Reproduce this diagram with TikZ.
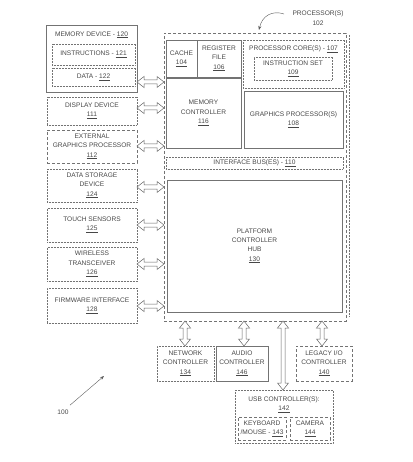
\documentclass[tikz,border=0pt]{standalone}
\usepackage{fontspec}
\setmainfont{Liberation Sans}
\usetikzlibrary{arrows.meta,calc}
\newcommand\bx[7]{\node[box,#6,minimum width={(#4)-(#2)},minimum height={(#5)-(#3)}] (#1) at ({((#2)+(#4))/2},{((#3)+(#5))/2}) {#7};}
% horizontal hollow double arrow from left point #1 to right point #2
\newcommand\harrow[2]{\draw[arr] let \p1=#1, \p2=#2 in
  (\x1,\y1) -- (\x1+7,\y1+5.5) -- (\x1+7,\y1+2) -- (\x2-7,\y1+2) -- (\x2-7,\y1+5.5) -- (\x2,\y1)
  -- (\x2-7,\y1-5.5) -- (\x2-7,\y1-2) -- (\x1+7,\y1-2) -- (\x1+7,\y1-5.5) -- cycle;}
% vertical hollow double arrow from upper point #1 to lower point #2
\newcommand\varrow[2]{\draw[arr] let \p1=#1, \p2=#2 in
  (\x1,\y1) -- (\x1+5.5,\y1-7) -- (\x1+2,\y1-7) -- (\x1+2,\y2+7) -- (\x1+5.5,\y2+7) -- (\x1,\y2)
  -- (\x1-5.5,\y2+7) -- (\x1-2,\y2+7) -- (\x1-2,\y1-7) -- (\x1-5.5,\y1-7) -- cycle;}
\begin{document}
\begin{tikzpicture}[x=1pt,y=-1pt,
  every node/.style={font=\fontsize{6.6}{9.3}\selectfont, text=black!72},
  box/.style={draw=black!55, line width=0.5pt, inner sep=0pt, outer sep=0pt, align=center},
  dot/.style={densely dotted},
  dsh/.style={dash pattern=on 3pt off 2pt},
  arr/.style={draw=black!60, line width=0.5pt, fill=white, line join=miter},
  thin/.style={draw=black!65, line width=0.4pt}
]
\path[use as bounding box] (0,0) rectangle (412,462);

% left column
\bx{mem}{46}{25}{137}{92}{}{}
\node[anchor=north] (memt) at (91.5,28) {MEMORY DEVICE - \underline{120}};
\bx{instr}{52}{44}{135}{65}{dot}{INSTRUCTIONS - \underline{121}}
\bx{data}{52}{68}{135}{86}{dot}{DATA - \underline{122}}
\bx{disp}{47}{97}{137}{125}{dot}{DISPLAY DEVICE\\\underline{111}}
\bx{extg}{47}{130}{137}{163}{dsh}{EXTERNAL\\GRAPHICS PROCESSOR\\\underline{112}}
\bx{dstor}{47}{169}{137}{202}{dot}{DATA STORAGE\\DEVICE\\\underline{124}}
\bx{touch}{47}{208}{137}{242}{dot}{TOUCH SENSORS\\\underline{125}}
\bx{wirel}{47}{247}{137}{281}{dot}{WIRELESS\\TRANSCEIVER\\\underline{126}}
\bx{firm}{47}{288}{137}{323}{dot}{FIRMWARE INTERFACE\\\underline{128}}

% processor
\bx{proc}{164}{33}{346}{321}{dsh}{}
\draw[draw=black!55, line width=0.5pt, densely dotted] ($(proc.north east)+(3.5,2)$) -- ($(proc.south east)+(3.5,-4)$);
\bx{cache}{166}{40}{197}{77}{}{CACHE\\\underline{104}}
\bx{regf}{197}{40}{241}{77}{}{REGISTER\\FILE\\\underline{106}}
\bx{core}{243}{40}{344}{88}{dot}{}
\node[anchor=north] (coret) at (293.5,42) {PROCESSOR CORE(S) - \underline{107}};
\bx{iset}{254}{57}{332}{80}{dot}{INSTRUCTION SET\\\underline{109}}
\bx{memc}{166}{78}{241}{148}{}{MEMORY\\CONTROLLER\\\underline{116}}
\bx{gfx}{244}{91}{343}{148}{}{GRAPHICS PROCESSOR(S)\\\underline{108}}
\bx{ibus}{166}{157}{343}{169}{dot}{INTERFACE BUS(ES) - \underline{110}}
\bx{pch}{167}{180}{342}{312}{}{PLATFORM\\CONTROLLER\\HUB\\\underline{130}}

\node[align=center] (proclbl) at (318,18) {PROCESSOR(S)\\102};
\coordinate (pa) at (284,14);
\coordinate (pb) at (259,30);
\draw[thin, -{Stealth[length=4pt,width=3pt]}] (pa) .. controls (272,10) and (262,16) .. (pb);

% bottom
\bx{net}{157}{346}{214}{381}{dot}{NETWORK\\CONTROLLER\\\underline{134}}
\bx{audio}{216}{346}{268}{381}{}{AUDIO\\CONTROLLER\\\underline{146}}
\bx{legacy}{296}{346}{352}{381}{dsh}{LEGACY I/O\\CONTROLLER\\\underline{140}}
\bx{usb}{235}{390}{333}{443}{dot}{}
\node[anchor=north,align=center] (usbt) at (284,393) {USB CONTROLLER(S):\\\underline{142}};
\bx{kbd}{238}{417}{286}{440}{dsh}{KEYBOARD\\/MOUSE - \underline{143}}
\bx{cam}{290}{417}{330}{440}{dsh}{CAMERA\\\underline{144}}

% horizontal arrows
\harrow{(mem.east |- 0,82)}{(proc.west |- 0,82)}
\harrow{(disp.east |- 0,108)}{(proc.west |- 0,108)}
\harrow{(extg.east |- 0,146)}{(proc.west |- 0,146)}
\harrow{(dstor.east |- 0,187)}{(proc.west |- 0,187)}
\harrow{(touch.east |- 0,225)}{(proc.west |- 0,225)}
\harrow{(wirel.east |- 0,264)}{(proc.west |- 0,264)}
\harrow{(firm.east |- 0,306)}{(proc.west |- 0,306)}

% vertical arrows
\varrow{(proc.south -| 185,0)}{(net.north -| 185,0)}
\varrow{(proc.south -| 244,0)}{(audio.north -| 244,0)}
\varrow{(proc.south -| 283,0)}{(usb.north -| 283,0)}
\varrow{(proc.south -| 322,0)}{(legacy.north -| 322,0)}

% 100
\node (sys) at (63,412) {100};
\coordinate (sysa) at (104,376);
\draw[thin, -{Stealth[length=4pt,width=3pt]}] (sys.north east) ++(-2,-1) -- (sysa);
\end{tikzpicture}
\end{document}
